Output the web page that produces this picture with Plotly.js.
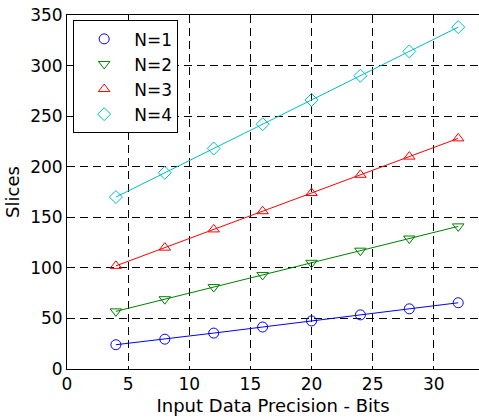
<!DOCTYPE html>
<html>
<head>
<meta charset="utf-8">
<script src="https://cdn.plot.ly/plotly-3.0.1.min.js"></script>
<style>
  html, body { margin: 0; padding: 0; background: #fff; }
  #chart { width: 479px; height: 419px; }
</style>
</head>
<body>
<div id="chart"></div>
<script>
// Input data precision (bits)
const bits = [4, 8, 12, 16, 20, 24, 28, 32];

// Slices used for each N
const sliceN1 = [24, 29.5, 35.5, 41.5, 47.5, 53.5, 59.5, 65.5];
const sliceN2 = [57, 69, 81, 93, 105, 117, 129, 141];
const sliceN3 = [102, 120, 138, 156, 174, 192, 210, 228];
const sliceN4 = [170, 194, 218, 242, 266, 290, 314, 338];

const seriesNames = ['N=1', 'N=2', 'N=3', 'N=4'];
const seriesColors = ['#0000ff', '#008000', '#ff0000', '#00bfbf'];
const seriesSymbols = ['circle-open', 'triangle-down-open', 'triangle-up-open', 'diamond-open'];
const seriesValues = [sliceN1, sliceN2, sliceN3, sliceN4];

const xTicks = [0, 5, 10, 15, 20, 25, 30];
const yTicks = [0, 50, 100, 150, 200, 250, 300, 350];

const fontFamily = 'DejaVu Sans, Liberation Sans, Arial, sans-serif';

const traces = [];
seriesValues.forEach((vals, i) => {
  // connecting line
  traces.push({
    x: bits, y: vals, type: 'scatter', mode: 'lines',
    line: { color: seriesColors[i], width: 1 },
    showlegend: false, hoverinfo: 'skip'
  });
  // markers (legend entry)
  traces.push({
    x: bits, y: vals, type: 'scatter', mode: 'markers',
    name: seriesNames[i],
    marker: { symbol: seriesSymbols[i], size: 10, color: seriesColors[i], line: { width: 1, color: seriesColors[i] } }
  });
});

const layout = {
  width: 479, height: 419,
  margin: { l: 67, r: 0, t: 15, b: 50 },
  paper_bgcolor: '#fff', plot_bgcolor: '#fff',
  font: { family: fontFamily, size: 17, color: '#000' },
  showlegend: true,
  legend: {
    x: 0.015, y: 0.985, xanchor: 'left', yanchor: 'top',
    bgcolor: '#fff', bordercolor: '#000', borderwidth: 1,
    font: { family: fontFamily, size: 17, color: '#000' },
    itemwidth: 50
  },
  xaxis: {
    range: [0, 33.7], tickvals: xTicks, ticks: '', showline: true, linecolor: '#000', linewidth: 1,
    mirror: true, zeroline: false, showgrid: true, gridcolor: '#000', griddash: '8px,5px', gridwidth: 1,
    title: { text: 'Input Data Precision - Bits', font: { family: fontFamily, size: 18 }, standoff: 5 },
    tickfont: { family: fontFamily, size: 17 }
  },
  yaxis: {
    range: [0, 350], tickvals: yTicks, ticks: '', showline: true, linecolor: '#000', linewidth: 1,
    mirror: true, zeroline: false, showgrid: true, gridcolor: '#000', griddash: '8px,5px', gridwidth: 1,
    title: { text: 'Slices', font: { family: fontFamily, size: 18 }, standoff: 5 },
    tickfont: { family: fontFamily, size: 17 }
  }
};

Plotly.newPlot('chart', traces, layout, { displayModeBar: false, staticPlot: true });
</script>
</body>
</html>
